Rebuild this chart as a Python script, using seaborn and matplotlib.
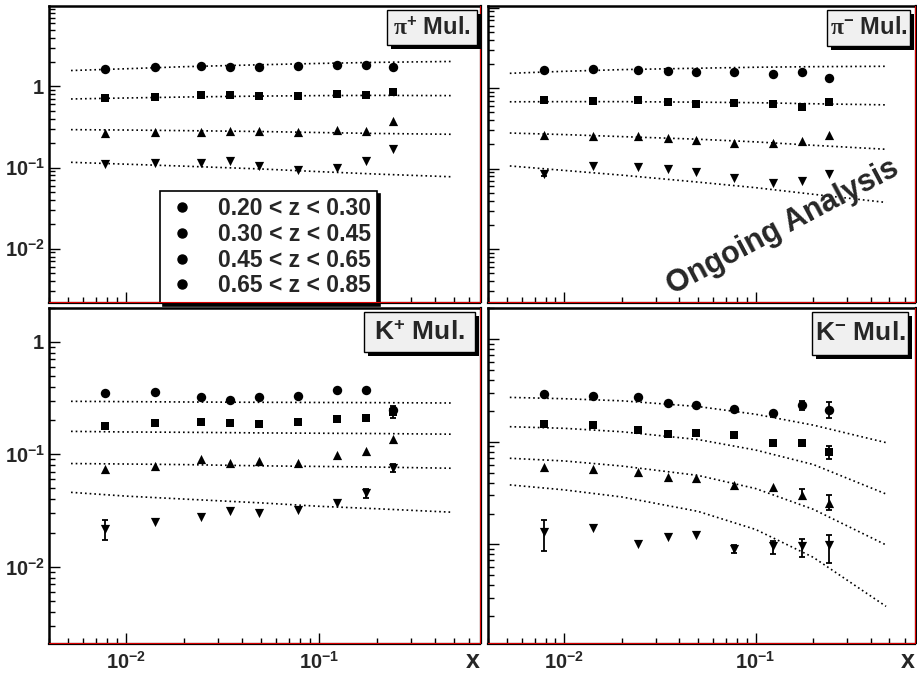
import numpy as np
import pandas as pd
import matplotlib
matplotlib.use('Agg')
import matplotlib.pyplot as plt
import seaborn as sns
from matplotlib.ticker import LogLocator, FuncFormatter, NullFormatter
from matplotlib.lines import Line2D
from matplotlib.patches import Rectangle


# ------------------------------------------------------------
# data
# ------------------------------------------------------------
x_bins = [0.0078, 0.0141, 0.0244, 0.0347, 0.0491, 0.0774, 0.123, 0.174, 0.242]
x_curve = [0.0052, 0.01, 0.02, 0.05, 0.1, 0.2, 0.48]
z_labels = ["0.20 < z < 0.30", "0.30 < z < 0.45", "0.45 < z < 0.65", "0.65 < z < 0.85"]

# pi+ multiplicities, one row per z bin
pip_points = [
    [1.64, 1.75, 1.81, 1.73, 1.75, 1.80, 1.83, 1.85, 1.73],
    [0.712, 0.732, 0.775, 0.775, 0.753, 0.762, 0.797, 0.775, 0.853],
    [0.267, 0.272, 0.277, 0.285, 0.283, 0.277, 0.293, 0.285, 0.378],
    [0.112, 0.115, 0.114, 0.120, 0.105, 0.0945, 0.100, 0.122, 0.170],
]
pip_curves = [
    [1.57, 1.65, 1.75, 1.85, 1.92, 1.98, 2.03],
    [0.70, 0.72, 0.74, 0.76, 0.77, 0.775, 0.77],
    [0.293, 0.29, 0.285, 0.278, 0.27, 0.263, 0.257],
    [0.116, 0.110, 0.104, 0.096, 0.089, 0.083, 0.077],
]
pip_bars = []

# pi- multiplicities
pim_points = [
    [1.69, 1.72, 1.70, 1.64, 1.59, 1.58, 1.52, 1.59, 1.34],
    [0.717, 0.697, 0.703, 0.677, 0.64, 0.646, 0.633, 0.587, 0.671],
    [0.261, 0.252, 0.252, 0.242, 0.227, 0.21, 0.208, 0.222, 0.261],
    [0.0867, 0.107, 0.105, 0.099, 0.090, 0.076, 0.067, 0.0697, 0.085],
]
pim_curves = [
    [1.53, 1.62, 1.70, 1.77, 1.82, 1.85, 1.87],
    [0.677, 0.68, 0.68, 0.67, 0.66, 0.64, 0.62],
    [0.277, 0.265, 0.25, 0.232, 0.215, 0.195, 0.174],
    [0.108, 0.095, 0.083, 0.068, 0.058, 0.048, 0.038],
]
# (z bin, x bin, low, high)
pim_bars = [(3, 0, 0.080, 0.093)]

# K+ multiplicities
kp_points = [
    [0.35, 0.36, 0.323, 0.306, 0.321, 0.33, 0.37, 0.372, 0.25],
    [0.178, 0.189, 0.194, 0.19, 0.187, 0.194, 0.205, 0.211, 0.238],
    [0.0738, 0.0789, 0.0916, 0.0833, 0.0873, 0.0844, 0.098, 0.107, 0.136],
    [0.0218, 0.0248, 0.0276, 0.0314, 0.0298, 0.0323, 0.037, 0.0453, 0.0763],
]
kp_curves = [
    [0.296, 0.294, 0.292, 0.29, 0.289, 0.288, 0.286],
    [0.160, 0.158, 0.157, 0.155, 0.154, 0.153, 0.151],
    [0.0828, 0.082, 0.081, 0.079, 0.078, 0.077, 0.0752],
    [0.0459, 0.0425, 0.040, 0.037, 0.0345, 0.0328, 0.0306],
]
kp_bars = [(1, 8, 0.21, 0.27), (3, 0, 0.0172, 0.026), (3, 7, 0.041, 0.049), (3, 8, 0.069, 0.082)]

# K- multiplicities
km_points = [
    [0.29, 0.28, 0.27, 0.238, 0.229, 0.208, 0.192, 0.226, 0.204],
    [0.148, 0.147, 0.129, 0.119, 0.121, 0.115, 0.097, 0.097, 0.0789],
    [0.057, 0.0545, 0.051, 0.0456, 0.044, 0.0377, 0.0365, 0.0306, 0.0252],
    [0.0131, 0.0146, 0.0100, 0.0119, 0.0123, 0.00895, 0.00964, 0.00964, 0.00993],
]
km_curves = [
    [0.27, 0.262, 0.25, 0.22, 0.185, 0.145, 0.098],
    [0.14, 0.135, 0.125, 0.105, 0.083, 0.06, 0.031],
    [0.069, 0.065, 0.058, 0.047, 0.035, 0.022, 0.0099],
    [0.038, 0.034, 0.029, 0.021, 0.014, 0.0075, 0.0025],
]
km_bars = [(0, 7, 0.204, 0.25), (0, 8, 0.169, 0.241), (1, 8, 0.068, 0.090),
           (2, 7, 0.0276, 0.0349), (2, 8, 0.0218, 0.0303),
           (3, 0, 0.00855, 0.0173), (3, 5, 0.0082, 0.0098), (3, 6, 0.0081, 0.0109),
           (3, 7, 0.00755, 0.0112), (3, 8, 0.00665, 0.0125)]


# ------------------------------------------------------------
# style
# ------------------------------------------------------------
sns.set_theme(style="ticks")
plt.rcParams['font.family'] = ['Liberation Sans', 'DejaVu Sans']
plt.rcParams['font.weight'] = 'bold'
plt.rcParams['mathtext.fontset'] = 'custom'
plt.rcParams['mathtext.rm'] = 'Liberation Serif'
plt.rcParams['mathtext.it'] = 'Liberation Serif:italic'
plt.rcParams['mathtext.bf'] = 'Liberation Sans:bold'

W, H = 917, 682
fig = plt.figure(figsize=(W / 100, H / 100), dpi=100, facecolor='white')

markers = ['o', 's', '^', 'v']
msizes = [46, 38, 44, 44]


def px_axes(x0, y0, x1, y1):
    return fig.add_axes([x0 / W, 1 - y1 / H, (x1 - x0) / W, (y1 - y0) / H])


def log_label(v, pos):
    e = int(round(np.log10(v)))
    if e == 0:
        return r'$\mathbf{1}$'
    return r'$\mathbf{10}^{\mathbf{%d}}$' % e


def draw_panel(ax, points, curves, bars, ylim, show_x, show_y):
    for i in range(4):
        df_c = pd.DataFrame({'x': x_curve, 'y': curves[i]})
        sns.lineplot(data=df_c, x='x', y='y', ax=ax, color='black', lw=1.2,
                     linestyle=(0, (1, 1.8)), estimator=None, sort=False)
    for i in range(4):
        df_p = pd.DataFrame({'x': x_bins, 'y': points[i]})
        sns.scatterplot(data=df_p, x='x', y='y', ax=ax, marker=markers[i],
                        color='black', s=msizes[i], linewidth=0, zorder=3)
    for i, j, lo, hi in bars:
        y = points[i][j]
        ax.errorbar([x_bins[j]], [y], yerr=[[y - lo], [hi - y]], fmt='none',
                    ecolor='black', elinewidth=1.3, capsize=2, capthick=1.3)

    ax.set_xscale('log')
    ax.set_yscale('log')
    ax.set_xlim(0.004, 0.68)
    ax.set_ylim(*ylim)
    ax.set_xlabel('')
    ax.set_ylabel('')

    for axis in (ax.xaxis, ax.yaxis):
        axis.set_major_locator(LogLocator(base=10, numticks=20))
        axis.set_minor_locator(LogLocator(base=10, subs=np.arange(2, 10), numticks=100))
        axis.set_minor_formatter(NullFormatter())
        axis.set_major_formatter(FuncFormatter(log_label))

    ax.tick_params(which='both', direction='in', top=False, right=False,
                   width=1.0, color='black', labelsize=14.5,
                   labelbottom=show_x, labelleft=show_y)
    ax.tick_params(which='major', length=8)
    ax.tick_params(which='minor', length=4)
    ax.tick_params(axis='y', pad=3)
    ax.tick_params(axis='x', pad=5)

    for side in ['left', 'top']:
        ax.spines[side].set_linewidth(1.8)
        ax.spines[side].set_color('black')
    for side in ['bottom', 'right']:
        ax.spines[side].set_linewidth(1.6)
        ax.spines[side].set_color('black')
        ax.spines[side].set_position(('outward', 1))
    # red pad border lines
    ax.plot([0, 1], [0, 0], transform=ax.transAxes, color='#dd0000', lw=0.8, clip_on=False, zorder=6)
    ax.plot([1, 1], [0, 1], transform=ax.transAxes, color='#dd0000', lw=0.8, clip_on=False, zorder=6)

    if show_x:
        ax.text(1.0, -0.055, 'x', transform=ax.transAxes, ha='right', va='center',
                fontsize=18, fontweight='bold')


def label_box(text, x0, y0, x1, y1, size):
    shadow = Rectangle(((x0 + 4) / W, 1 - (y1 + 4) / H), (x1 - x0) / W, (y1 - y0) / H,
                       transform=fig.transFigure, facecolor='black', edgecolor='none', zorder=10)
    box = Rectangle((x0 / W, 1 - y1 / H), (x1 - x0) / W, (y1 - y0) / H,
                    transform=fig.transFigure, facecolor='#f0f0f0', edgecolor='black',
                    lw=1.0, zorder=11)
    fig.add_artist(shadow)
    fig.add_artist(box)
    fig.text((x0 + x1) / 2 / W, 1 - (y0 + y1) / 2 / H, text, ha='center', va='center',
             fontsize=size, fontweight='bold', zorder=12)


ax_tl = px_axes(49, 6, 480, 302)
ax_tr = px_axes(488, 6, 915, 302)
ax_bl = px_axes(49, 308, 480, 643)
ax_br = px_axes(488, 308, 915, 643)

draw_panel(ax_tl, pip_points, pip_curves, pip_bars, (0.0022, 9.8), False, True)
draw_panel(ax_tr, pim_points, pim_curves, pim_bars, (0.0022, 10.5), False, False)
draw_panel(ax_bl, kp_points, kp_curves, kp_bars, (0.0021, 2.0), True, True)
draw_panel(ax_br, km_points, km_curves, km_bars, (0.0011, 2.0), True, False)

# legend (all entries drawn with the same round marker, as in the original)
handles = [Line2D([], [], marker='o', color='black', linestyle='none', markersize=6.5) for _ in z_labels]
leg = ax_tl.legend(handles, z_labels, loc='upper left', bbox_to_anchor=(0.2575, 0.3737),
                   borderaxespad=0, frameon=True, fancybox=False, framealpha=1,
                   edgecolor='black', shadow={'color': 'black', 'alpha': 1},
                   prop={'weight': 'bold', 'size': 16.5}, handlelength=1.4,
                   handletextpad=0.9, labelspacing=0.12, borderpad=0.25)
leg.get_frame().set_linewidth(1.2)

label_box(r'$\mathrm{\pi}^{\mathbf{+}}$ Mul.', 387, 10, 477, 45, 17)
label_box(r'$\mathrm{\pi}^{\mathbf{-}}$ Mul.', 827, 10, 910, 46, 17)
label_box(r'$\mathbf{K}^{\mathbf{+}}$ Mul.', 364, 312, 475, 352, 19)
label_box(r'$\mathbf{K}^{\mathbf{-}}$ Mul.', 812, 312, 908, 355, 19)

fig.text(783 / W, 1 - 227 / H, 'Ongoing Analysis', rotation=28, ha='center', va='center',
         fontsize=22, fontweight='bold', zorder=12)

fig.savefig('out.png', dpi=100, facecolor='white')
